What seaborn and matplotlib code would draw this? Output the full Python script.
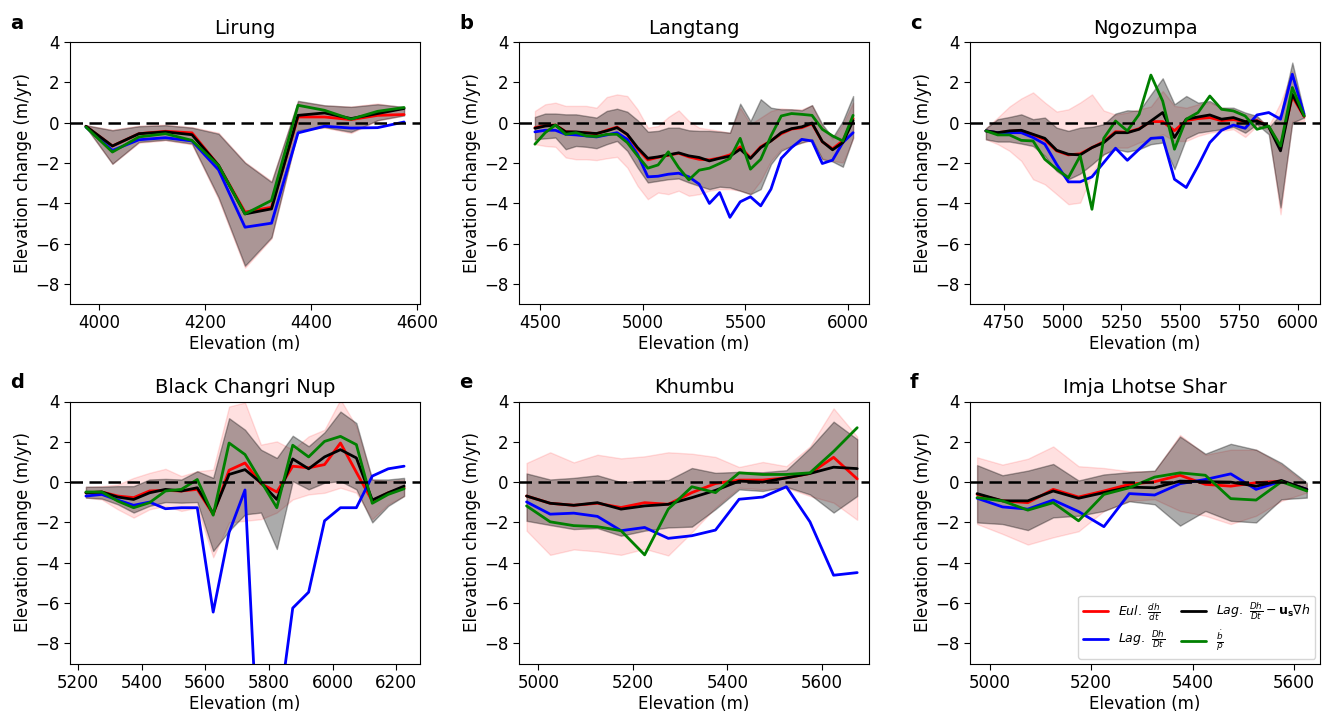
import numpy as np
import matplotlib
matplotlib.use("Agg")
import matplotlib.pyplot as plt
from matplotlib.ticker import MultipleLocator
import seaborn as sns

# ---------------- data ----------------
# a  Lirung
a_elev = [3975, 4025, 4075, 4125, 4175, 4225, 4275, 4325, 4375, 4425, 4475, 4525, 4575]
a_eul = [-0.18, -1.16, -0.55, -0.43, -0.51, -2.12, -4.44, -4.20, 0.28, 0.28, 0.15, 0.36, 0.40]
a_lag = [-0.22, -1.38, -0.85, -0.75, -0.91, -2.34, -5.19, -4.99, -0.51, -0.18, -0.27, -0.25, 0.03]
a_lagc = [-0.18, -1.16, -0.55, -0.46, -0.60, -2.12, -4.53, -4.28, 0.36, 0.48, 0.20, 0.45, 0.70]
a_smb = [-0.22, -1.46, -0.71, -0.55, -0.88, -2.12, -4.53, -3.86, 0.86, 0.61, 0.17, 0.56, 0.75]
a_eul_hi = [-0.13, -0.35, -0.15, -0.10, -0.22, -0.50, -1.95, -2.90, 1.05, 0.85, 0.80, 0.95, 0.75]
a_eul_lo = [-0.22, -2.05, -1.00, -0.88, -1.08, -3.80, -7.20, -5.75, -0.42, -0.25, -0.52, 0.10, 0.35]
a_lagc_hi = [-0.13, -0.38, -0.18, -0.13, -0.25, -0.55, -1.99, -2.95, 1.08, 0.86, 0.78, 0.91, 0.78]
a_lagc_lo = [-0.22, -2.04, -0.96, -0.85, -1.04, -3.70, -7.10, -5.69, -0.38, -0.22, -0.46, 0.12, 0.36]

# b  Langtang
b_elev = [4475, 4525, 4575, 4625, 4675, 4725, 4775, 4825, 4875, 4925, 4975, 5025, 5075, 5125, 5175, 5225,
          5275, 5325, 5375, 5425, 5475, 5525, 5575, 5625, 5675, 5725, 5775, 5825, 5875, 5925, 5975, 6025]
b_eul = [-0.25, -0.15, -0.12, -0.45, -0.48, -0.50, -0.56, -0.38, -0.22, -0.60, -1.30, -1.85, -1.72, -1.62, -1.52, -1.70,
         -1.82, -1.85, -1.75, -1.60, -1.20, -1.75, -1.20, -0.90, -0.55, -0.32, -0.25, -0.05, -0.95, -1.30, -0.90, 0.20]
b_lag = [-0.46, -0.38, -0.38, -0.58, -0.61, -0.66, -0.71, -0.61, -0.50, -0.83, -1.57, -2.69, -2.66, -2.56, -2.51, -2.69,
         -3.05, -4.01, -3.47, -4.70, -3.93, -3.68, -4.13, -3.30, -1.77, -1.24, -0.83, -0.91, -2.03, -1.86, -0.99, -0.50]
b_lagc = [-0.28, -0.17, -0.13, -0.46, -0.46, -0.51, -0.54, -0.41, -0.25, -0.58, -1.24, -1.77, -1.70, -1.60, -1.50, -1.65,
          -1.73, -1.90, -1.77, -1.67, -1.32, -1.78, -1.24, -0.91, -0.50, -0.30, -0.21, -0.02, -0.94, -1.35, -0.99, 0.10]
b_smb = [-1.07, -0.50, -0.12, -0.58, -0.50, -0.66, -0.69, -0.58, -0.58, -0.99, -1.65, -2.26, -2.10, -1.45, -2.23, -2.84,
         -2.36, -2.26, -2.03, -1.78, -0.78, -2.31, -1.82, -0.66, 0.33, 0.45, 0.41, 0.36, -0.33, -0.66, -0.91, 0.36]
b_eul_hi = [0.58, 0.91, 0.99, 0.83, 0.83, 0.83, 0.74, 1.27, 1.40, 1.32, 0.66, -0.25, -0.17, 0.28, 0.61, 0.08,
            -0.25, -0.33, -0.41, -0.50, 0.74, -0.08, 0.25, 0.58, 0.71, 0.66, 0.66, 0.86, -0.17, -0.83, -0.08, 0.99]
b_eul_lo = [-1.07, -1.16, -1.20, -1.73, -1.82, -1.82, -1.86, -1.77, -1.70, -2.23, -3.14, -3.80, -3.47, -3.55, -3.38, -3.63,
            -3.55, -3.38, -3.30, -3.30, -3.38, -3.55, -2.89, -1.90, -1.32, -1.16, -0.99, -0.91, -1.78, -1.90, -1.98, -0.80]
b_lagc_hi = [0.28, 0.45, 0.45, 0.41, 0.41, 0.33, 0.25, 0.58, 0.69, 0.54, 0.12, -0.45, -0.41, -0.25, -0.25, -0.38,
             -0.41, -0.41, -0.45, -0.50, 0.94, 0.08, 1.16, 0.74, 0.66, 0.66, 0.61, 0.87, -0.08, -0.74, 0.08, 1.32]
b_lagc_lo = [-0.83, -0.78, -0.74, -1.32, -1.16, -1.20, -1.27, -1.07, -0.91, -1.40, -2.23, -2.97, -2.89, -2.81, -2.77, -2.97,
             -3.14, -3.30, -3.18, -3.22, -3.38, -3.55, -3.30, -2.06, -1.40, -1.16, -0.99, -0.83, -1.82, -1.93, -2.19, -0.75]

# c  Ngozumpa
c_elev = [4675, 4725, 4775, 4825, 4875, 4925, 4975, 5025, 5075, 5125, 5175, 5225, 5275, 5325,
          5375, 5425, 5475, 5525, 5575, 5625, 5675, 5725, 5775, 5825, 5875, 5925, 5975, 6025]
c_eul = [-0.41, -0.50, -0.43, -0.40, -0.60, -0.85, -1.40, -1.60, -1.55, -1.24, -0.95, -0.45, -0.48, -0.30,
         0.05, 0.05, -0.40, 0.10, 0.20, 0.25, 0.10, 0.15, 0.05, 0.10, -0.20, -1.20, 1.30, 0.30]
c_lag = [-0.41, -0.50, -0.50, -0.50, -0.74, -1.07, -2.07, -2.94, -2.94, -2.69, -1.98, -1.27, -1.87, -1.32,
         -0.78, -0.74, -2.81, -3.22, -2.15, -0.99, -0.38, -0.12, -0.28, 0.38, 0.50, 0.17, 2.40, 0.41]
c_lagc = [-0.41, -0.50, -0.41, -0.38, -0.58, -0.78, -1.37, -1.57, -1.60, -1.24, -0.99, -0.50, -0.50, -0.33,
          0.08, 0.50, -0.74, 0.17, 0.28, 0.38, 0.17, 0.25, 0.05, 0.08, -0.21, -1.40, 1.40, 0.33]
c_smb = [-0.41, -0.61, -0.61, -0.88, -0.91, -1.82, -2.31, -2.73, -1.65, -4.30, -0.78, 0.08, -0.41, 0.41,
         2.36, 1.07, -1.32, 0.17, 0.50, 1.32, 0.66, 0.58, 0.33, -0.33, -0.17, -1.16, 1.74, 0.33]
c_eul_hi = [-0.28, 0.25, 0.80, 1.20, 1.50, 1.00, 0.55, 0.66, 1.00, 1.40, 0.60, 0.40, 0.50, 0.66,
            0.80, 1.57, 0.83, 0.74, 0.91, 0.99, 0.74, 0.66, 0.41, 0.25, -0.17, 0.99, 2.56, 0.41]
c_eul_lo = [-0.83, -1.07, -1.40, -1.90, -2.81, -3.06, -3.55, -4.05, -3.97, -2.56, -1.57, -1.24, -1.24, -0.99,
            -0.83, -0.58, -0.91, -0.91, -0.66, -0.50, -0.41, -0.33, -0.71, -0.17, -0.33, -4.55, 0.08, 0.08]
c_lagc_hi = [-0.28, 0.17, 0.28, 0.41, 0.17, 0.25, -0.25, -0.41, -0.25, -0.21, -0.08, 0.45, 0.61, 0.58,
             1.40, 2.20, 0.91, 1.32, 0.99, 1.07, 0.74, 0.74, 0.50, 0.33, -0.25, 0.41, 2.98, 0.50]
c_lagc_lo = [-0.83, -0.94, -0.94, -1.04, -1.16, -1.65, -2.40, -2.81, -2.53, -2.07, -1.57, -1.32, -1.44, -1.32,
             -1.07, -0.99, -2.31, -0.78, -0.50, -0.41, -0.33, -0.21, -0.50, -0.08, -0.58, -4.21, 0.00, 0.25]

# d  Black Changri Nup
d_elev = [5225, 5275, 5325, 5375, 5425, 5475, 5525, 5575, 5625, 5675, 5725,
          5775, 5825, 5875, 5925, 5975, 6025, 6075, 6125, 6175, 6225]
d_eul = [-0.53, -0.49, -0.69, -0.77, -0.44, -0.41, -0.44, -0.36, -1.60, 0.59, 0.95,
         -0.07, -0.49, 0.79, 0.71, 0.87, 1.94, 0.49, -0.94, -0.53, -0.28]
d_lag = [-0.69, -0.61, -0.89, -1.15, -0.99, -1.32, -1.27, -1.27, -6.45, -2.50, -0.39,
         -16.3, -12.2, -6.25, -5.46, -1.92, -1.27, -1.27, 0.30, 0.66, 0.79]
d_lagc = [-0.53, -0.49, -0.74, -0.86, -0.53, -0.36, -0.44, -0.28, -1.55, 0.38, 0.62,
          -0.03, -0.86, 1.15, 0.66, 1.25, 1.61, 1.20, -0.89, -0.53, -0.20]
d_smb = [-0.49, -0.49, -0.94, -1.27, -1.02, -0.44, -0.36, 0.13, -1.64, 1.94, 1.37,
         0.05, -1.27, 1.83, 1.25, 2.02, 2.27, 1.86, -1.05, -0.61, -0.33]
d_eul_hi = [-0.23, -0.20, -0.12, 0.21, 0.46, 0.66, 0.30, 0.54, 0.62, 3.75, 3.95,
            1.86, 2.02, 1.61, 2.27, 2.60, 4.10, 2.76, 0.13, 0.05, 0.13]
d_eul_lo = [-0.77, -0.86, -1.35, -1.76, -1.35, -1.18, -1.43, -1.27, -3.73, -2.00, -1.92,
            -1.84, -1.51, -0.86, -0.61, -0.53, -0.28, -0.53, -1.84, -1.10, -0.69]
d_lagc_hi = [-0.23, -0.23, -0.20, -0.20, 0.13, 0.16, 0.13, 0.54, 0.21, 3.17, 2.60,
             1.61, 1.20, 2.30, 1.78, 2.47, 3.50, 2.93, 0.13, 0.13, 0.21]
d_lagc_lo = [-0.77, -0.82, -1.10, -1.51, -1.18, -0.99, -1.02, -0.99, -3.42, -2.42, -1.60,
             -1.51, -3.32, 0.05, -0.36, -0.03, 0.05, -0.36, -2.00, -1.18, -0.69]

# e  Khumbu
e_elev = [4975, 5025, 5075, 5125, 5175, 5225, 5275, 5325, 5375, 5425, 5475, 5525, 5575, 5625, 5675]
e_eul = [-0.69, -1.05, -1.15, -1.05, -1.26, -1.02, -1.10, -0.52, -0.07, 0.10, 0.10, 0.21, 0.43, 1.23, 0.16]
e_lag = [-0.98, -1.59, -1.54, -1.70, -2.41, -2.25, -2.79, -2.66, -2.38, -0.85, -0.74, -0.23, -1.97, -4.62, -4.49]
e_lagc = [-0.69, -1.05, -1.15, -1.02, -1.34, -1.18, -1.10, -0.77, -0.41, 0.05, 0.00, 0.21, 0.43, 0.74, 0.67]
e_smb = [-1.18, -1.97, -2.16, -2.21, -2.41, -3.61, -1.34, -0.23, -0.52, 0.46, 0.38, 0.38, 0.46, 1.52, 2.70]
e_eul_hi = [0.95, 1.48, 0.98, 1.36, 1.18, 1.28, 1.48, 1.41, 1.25, 0.75, 1.00, 0.79, 1.77, 3.66, 2.26]
e_eul_lo = [-2.41, -3.61, -3.34, -3.44, -3.61, -3.31, -3.64, -2.49, -1.26, -0.28, -0.36, -0.28, -0.69, -1.02, -1.87]
e_lagc_hi = [0.43, 0.13, 0.21, 0.34, 0.00, 0.08, 0.10, 0.70, 0.46, 0.51, 0.49, 0.59, 1.69, 3.00, 2.13]
e_lagc_lo = [-1.92, -2.13, -2.33, -2.28, -2.66, -2.41, -2.25, -2.21, -1.34, -0.36, -0.44, -0.23, -0.61, -1.51, -0.69]

# f  Imja Lhotse Shar
f_elev = [4975, 5025, 5075, 5125, 5175, 5225, 5275, 5325, 5375, 5425, 5475, 5525, 5575, 5625]
f_eul = [-0.61, -0.93, -1.02, -0.36, -0.74, -0.44, -0.11, 0.02, 0.34, -0.11, -0.20, -0.03, 0.05, -0.36]
f_lag = [-0.80, -1.23, -1.34, -0.89, -1.46, -2.21, -0.57, -0.64, -0.08, 0.13, 0.41, -0.36, 0.05, -0.36]
f_lagc = [-0.57, -0.93, -0.93, -0.44, -0.80, -0.52, -0.25, -0.28, 0.05, 0.02, 0.00, -0.20, 0.08, -0.36]
f_smb = [-0.77, -0.93, -1.39, -1.02, -1.92, -0.61, -0.28, 0.25, 0.46, 0.34, -0.82, -0.89, 0.02, -0.44]
f_eul_hi = [1.23, 0.87, 1.16, 1.77, 0.79, 0.70, 0.54, 0.54, 2.34, 1.36, 1.61, 1.61, 0.87, -0.11]
f_eul_lo = [-2.08, -2.57, -3.10, -2.74, -2.44, -1.43, -0.93, -0.85, -1.43, -1.67, -2.08, -1.67, -0.93, -0.52]
f_lagc_hi = [0.84, 0.34, 0.57, 0.90, 0.08, 0.38, 0.49, 0.57, 2.26, 1.41, 1.90, 1.61, 0.95, -0.03]
f_lagc_lo = [-2.00, -2.08, -2.38, -1.75, -1.67, -1.43, -0.95, -1.10, -2.16, -1.43, -1.92, -2.00, -0.85, -0.77]

titles = ["Lirung", "Langtang", "Ngozumpa", "Black Changri Nup", "Khumbu", "Imja Lhotse Shar"]
letters = ["a", "b", "c", "d", "e", "f"]
series_labels = [r"$Eul.\ \frac{dh}{dt}$", r"$Lag.\ \frac{Dh}{Dt}$",
                 r"$Lag.\ \frac{Dh}{Dt} - \mathbf{u_s}\nabla h$", r"$\frac{\dot{b}}{\rho}$"]
y_ticks = [-8, -6, -4, -2, 0, 2, 4]

panels = [
    (a_elev, a_eul, a_lag, a_lagc, a_smb, a_eul_lo, a_eul_hi, a_lagc_lo, a_lagc_hi),
    (b_elev, b_eul, b_lag, b_lagc, b_smb, b_eul_lo, b_eul_hi, b_lagc_lo, b_lagc_hi),
    (c_elev, c_eul, c_lag, c_lagc, c_smb, c_eul_lo, c_eul_hi, c_lagc_lo, c_lagc_hi),
    (d_elev, d_eul, d_lag, d_lagc, d_smb, d_eul_lo, d_eul_hi, d_lagc_lo, d_lagc_hi),
    (e_elev, e_eul, e_lag, e_lagc, e_smb, e_eul_lo, e_eul_hi, e_lagc_lo, e_lagc_hi),
    (f_elev, f_eul, f_lag, f_lagc, f_smb, f_eul_lo, f_eul_hi, f_lagc_lo, f_lagc_hi),
]
x_steps = [200, 500, 250, 200, 200, 200]
x_limits = [None, None, None, None, (4959, 5700), (4961, 5651)]

# ---------------- style / layout ----------------
sns.set_style("ticks")
plt.rcParams["font.family"] = ["DejaVu Sans"]
plt.rcParams["axes.edgecolor"] = "black"
plt.rcParams["text.color"] = "black"
plt.rcParams["axes.labelcolor"] = "black"
plt.rcParams["xtick.color"] = "black"
plt.rcParams["ytick.color"] = "black"

W, H = 1333, 717
fig = plt.figure(figsize=(W / 100, H / 100), dpi=100)
col_left = [70, 519, 970]
row_top = [42, 401.5]
ax_w, ax_h = 350, 262

for i, (p, title, letter) in enumerate(zip(panels, titles, letters)):
    elev, eul, lag, lagc, smb, eul_lo, eul_hi, lagc_lo, lagc_hi = p
    r, c = divmod(i, 3)
    left = col_left[c] / W
    bottom = 1 - (row_top[r] + ax_h) / H
    ax = fig.add_axes([left, bottom, ax_w / W, ax_h / H])

    ax.fill_between(elev, eul_lo, eul_hi, color="red", alpha=0.12, lw=1)
    ax.fill_between(elev, lagc_lo, lagc_hi, color="black", alpha=0.33, lw=1)
    for vals, col, lab in zip([eul, lag, lagc, smb], ["red", "blue", "black", "green"], series_labels):
        sns.lineplot(x=elev, y=vals, color=col, lw=2, ax=ax, label=lab)
    ax.axhline(0, color="black", ls=(0, (5, 2.6)), lw=1.8)

    ax.set_ylim(-9, 4)
    ax.set_yticks(y_ticks)
    ax.xaxis.set_major_locator(MultipleLocator(x_steps[i]))
    if x_limits[i] is not None:
        ax.set_xlim(*x_limits[i])
    ax.tick_params(labelsize=12, length=4)
    ax.set_xlabel("Elevation (m)", fontsize=12, labelpad=2)
    ax.set_ylabel("Elevation change (m/yr)", fontsize=12, labelpad=2)
    ax.set_title(title, fontsize=14, pad=6)

    leg = ax.get_legend()
    if leg is not None:
        leg.remove()
    if i == 5:
        handles = ax.get_lines()[:4]
        ax.legend(handles, series_labels, ncol=2, loc="lower right", fontsize=9,
                  handlelength=2.0, columnspacing=1.2, borderaxespad=0.4, framealpha=0.8)

    fig.text((col_left[c] - 60) / W, 1 - (row_top[r] - 28) / H, letter,
             fontsize=14, fontweight="bold", va="top", ha="left")

fig.savefig("out.png", dpi=100)
